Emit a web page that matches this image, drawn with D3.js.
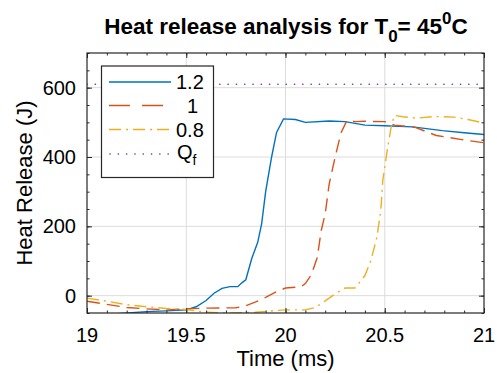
<!DOCTYPE html>
<html>
<head>
<meta charset="utf-8">
<script src="https://cdn.jsdelivr.net/npm/d3@7"></script>
<style>
  body { margin: 0; background: #fff; }
  text { font-family: "Liberation Sans", Arial, Helvetica, sans-serif; fill: #000; }
</style>
</head>
<body>
<div id="chart"></div>
<script>
// data (time in ms, heat release in J)
const seriesNames = ["1.2", " 1", "0.8"];
const seriesColors = ["#0072BD", "#D95319", "#EDB120"];
const seriesDash = [null, "13,7", "12,5,2,5"];

const time12 = [19.0, 19.17, 19.3, 19.4, 19.5, 19.55, 19.6, 19.64, 19.68, 19.72, 19.76, 19.78, 19.8, 19.83, 19.86, 19.88, 19.9, 19.93, 19.955, 19.99, 20.05, 20.1, 20.22, 20.3, 20.4, 20.5, 20.64, 20.79, 20.9, 21.0];
const heat12 = [-62, -51, -46, -44, -41, -32, -14, 7, 21, 26, 26, 37, 46, 107, 154, 208, 300, 400, 471, 510, 508, 500, 504, 502, 492, 490, 487, 476, 470, 465];

const time10 = [19.0, 19.1, 19.2, 19.3, 19.4, 19.5, 19.6, 19.75, 19.8, 19.85, 19.9, 19.95, 20.0, 20.08, 20.1, 20.13, 20.16, 20.18, 20.2, 20.22, 20.25, 20.28, 20.31, 20.35, 20.4, 20.5, 20.55, 20.65, 20.76, 20.9, 21.0];
const heat10 = [-16, -25, -34, -38, -41, -38, -36, -35, -29, -18, -5, 10, 22, 26, 35, 60, 110, 188, 236, 322, 400, 470, 506, 502, 503, 502, 492, 486, 462, 449, 441];

const time08 = [19.0, 19.1, 19.2, 19.3, 19.4, 19.5, 19.6, 19.7, 19.85, 19.95, 20.0, 20.1, 20.15, 20.2, 20.25, 20.3, 20.35, 20.4, 20.43, 20.46, 20.48, 20.49, 20.51, 20.535, 20.55, 20.59, 20.66, 20.75, 20.85, 20.92, 21.0];
const heat08 = [-7, -16, -26, -32, -37, -40, -48, -50, -48, -43, -41, -41, -34, -15, 5, 22, 22, 58, 101, 168, 245, 332, 410, 496, 520, 516, 512, 517, 515, 508, 498];

const qfValue = 610;
const qfName = "Q";

const xTicks = [19, 19.5, 20, 20.5, 21];
const yTicks = [0, 200, 400, 600];

const W = 497, H = 373;
const x = d3.scaleLinear().domain([19, 21]).range([87, 484]);
const y = d3.scaleLinear().domain([-50, 700]).range([313, 53]);

const svg = d3.select("#chart").append("svg")
    .attr("width", W)
    .attr("height", H);

svg.append("defs").append("clipPath").attr("id", "clip")
  .append("rect")
    .attr("x", x(19)).attr("y", y(700))
    .attr("width", x(21) - x(19)).attr("height", y(-50) - y(700));

// grid
svg.append("g").selectAll("line").data(xTicks.slice(1, -1)).enter().append("line")
    .attr("x1", d => x(d)).attr("x2", d => x(d))
    .attr("y1", y(700)).attr("y2", y(-50))
    .attr("stroke", "#dcdcdc").attr("stroke-width", 1);
svg.append("g").selectAll("line").data(yTicks).enter().append("line")
    .attr("x1", x(19)).attr("x2", x(21))
    .attr("y1", d => y(d)).attr("y2", d => y(d))
    .attr("stroke", "#dcdcdc").attr("stroke-width", 1);

// series
const series = [[time12, heat12], [time10, heat10], [time08, heat08]];
const line = d3.line().x(d => x(d[0])).y(d => y(d[1]));
const lines = svg.append("g").attr("clip-path", "url(#clip)");
series.forEach((s, i) => {
    lines.append("path")
        .datum(d3.zip(s[0], s[1]))
        .attr("d", line)
        .attr("fill", "none")
        .attr("stroke", seriesColors[i])
        .attr("stroke-width", 1.4)
        .attr("stroke-dasharray", seriesDash[i]);
});
lines.append("line")
    .attr("x1", x(19)).attr("x2", x(21))
    .attr("y1", y(qfValue)).attr("y2", y(qfValue))
    .attr("stroke", "#7E2F8E").attr("stroke-width", 1.6)
    .attr("stroke-linecap", "round")
    .attr("stroke-dasharray", "0.1,8.2");

// axes box with inward ticks on all sides
const axisColor = "#262626";
const xMinor = d3.range(19, 21.0001, 0.1);
const yMinor = d3.range(-50, 700.01, 50);
function ticks(g, axis, vals, len) {
    g.call(axis.tickValues(vals).tickSize(-len).tickFormat(""))
        .call(a => a.select(".domain").remove())
        .call(a => a.selectAll("line").attr("stroke", axisColor));
}
ticks(svg.append("g").attr("transform", `translate(0,${y(-50)})`), d3.axisBottom(x), xMinor, 2.5);
ticks(svg.append("g").attr("transform", `translate(0,${y(700)})`), d3.axisTop(x), xMinor, 2.5);
ticks(svg.append("g").attr("transform", `translate(${x(19)},0)`), d3.axisLeft(y), yMinor, 2.5);
ticks(svg.append("g").attr("transform", `translate(${x(21)},0)`), d3.axisRight(y), yMinor, 2.5);
ticks(svg.append("g").attr("transform", `translate(0,${y(-50)})`), d3.axisBottom(x), xTicks, 5);
ticks(svg.append("g").attr("transform", `translate(0,${y(700)})`), d3.axisTop(x), xTicks, 5);
ticks(svg.append("g").attr("transform", `translate(${x(19)},0)`), d3.axisLeft(y), yTicks, 5);
ticks(svg.append("g").attr("transform", `translate(${x(21)},0)`), d3.axisRight(y), yTicks, 5);

svg.append("rect")
    .attr("x", x(19)).attr("y", y(700))
    .attr("width", x(21) - x(19)).attr("height", y(-50) - y(700))
    .attr("fill", "none").attr("stroke", axisColor).attr("stroke-width", 1.2);

// tick labels
svg.append("g").selectAll("text").data(xTicks).enter().append("text")
    .attr("x", d => x(d)).attr("y", 342)
    .attr("text-anchor", "middle")
    .style("font-size", "20px")
    .text(d => d);
svg.append("g").selectAll("text").data(yTicks).enter().append("text")
    .attr("x", 76).attr("y", d => y(d) + 7)
    .attr("text-anchor", "end")
    .style("font-size", "20px")
    .text(d => d);

// axis labels
svg.append("text")
    .attr("x", x(20)).attr("y", 366)
    .attr("text-anchor", "middle")
    .style("font-size", "22px")
    .text("Time (ms)");
svg.append("text")
    .attr("transform", `translate(32,${(y(700) + y(-50)) / 2}) rotate(-90)`)
    .attr("text-anchor", "middle")
    .style("font-size", "22px")
    .text("Heat Release (J)");

// title
const title = svg.append("text")
    .attr("x", 286).attr("y", 34)
    .attr("text-anchor", "middle")
    .style("font-size", "22.5px")
    .style("font-weight", "bold");
title.append("tspan").text("Heat release analysis for T");
title.append("tspan").attr("dy", 8).style("font-size", "17px").text("0");
title.append("tspan").attr("dy", -8).text("= 45");
title.append("tspan").attr("dy", -10).style("font-size", "17px").text("0");
title.append("tspan").attr("dy", 10).text("C");

// legend
const legend = svg.append("g");
legend.append("rect")
    .attr("x", 101.5).attr("y", 66)
    .attr("width", 112).attr("height", 111.5)
    .attr("fill", "#fff").attr("stroke", axisColor).attr("stroke-width", 1.2);
const rowY = [82, 105.5, 129.5, 154];
seriesNames.forEach((n, i) => {
    legend.append("line")
        .attr("x1", 109).attr("x2", 171)
        .attr("y1", rowY[i]).attr("y2", rowY[i])
        .attr("stroke", seriesColors[i]).attr("stroke-width", 1.4)
        .attr("stroke-dasharray", i === 1 ? "21,12" : seriesDash[i]);
    legend.append("text")
        .attr("x", 176).attr("y", rowY[i] + 7)
        .style("font-size", "20px")
        .style("white-space", "pre")
        .text(i === 1 ? "  1" : n);
});
legend.append("line")
    .attr("x1", 110).attr("x2", 171)
    .attr("y1", rowY[3]).attr("y2", rowY[3])
    .attr("stroke", "#7E2F8E").attr("stroke-width", 1.6)
    .attr("stroke-linecap", "round")
    .attr("stroke-dasharray", "0.1,8.2");
const qf = legend.append("text")
    .attr("x", 177).attr("y", rowY[3] + 5)
    .style("font-size", "20px");
qf.append("tspan").text(qfName);
qf.append("tspan").attr("dy", 6).style("font-size", "14px").text("f");
</script>
</body>
</html>
